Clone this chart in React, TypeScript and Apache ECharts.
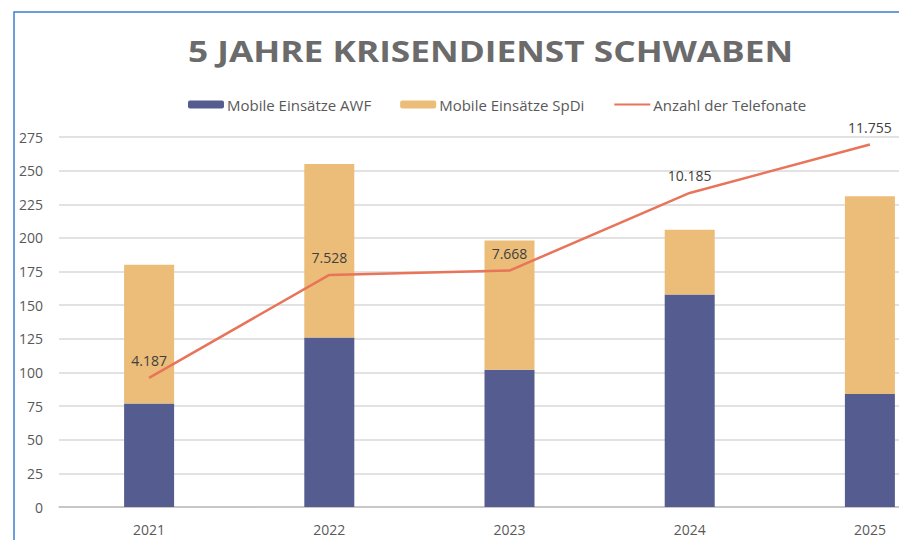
import React, { useEffect, useRef } from "react";
import * as echarts from "echarts";

const years = ["2021", "2022", "2023", "2024", "2025"];
const awf = [77, 126, 102, 158, 84];
const spdi = [103, 129, 96, 48, 147];
const calls = [4187, 7528, 7668, 10185, 11755];
const leftTicks = { min: 0, max: 275, interval: 25 };
const titleText = "5 JAHRE KRISENDIENST SCHWABEN";

function fmt(n: number): string {
  return String(n).replace(/\B(?=(\d{3})+(?!\d))/g, ".");
}

export default function App() {
  const ref = useRef<HTMLDivElement>(null);
  useEffect(() => {
    if (!ref.current) return;
    const chart = echarts.init(ref.current, null, { renderer: "svg" });
    chart.setOption({
      animation: false,
      backgroundColor: "#ffffff",
      textStyle: { fontFamily: "Open Sans" },
      legend: {
        left: 188,
        top: 97,
        padding: 0,
        itemWidth: 36,
        itemHeight: 8,
        itemGap: 29,
        textStyle: { color: "#595959", fontSize: 15, padding: [0, 0, 0, -2] },
        data: ["Mobile Einsätze AWF", "Mobile Einsätze SpDi", "Anzahl der Telefonate"],
      },
      grid: { left: 59, right: 0, top: 137, bottom: 33, containLabel: false },
      xAxis: {
        type: "category",
        data: years,
        axisLine: { lineStyle: { color: "#bfbfbf", width: 1.5 } },
        axisTick: { show: false },
        axisLabel: { color: "#595959", fontSize: 14, margin: 15 },
      },
      yAxis: [
        {
          type: "value",
          min: leftTicks.min,
          max: leftTicks.max,
          interval: leftTicks.interval,
          axisLine: { show: false },
          axisTick: { show: false },
          axisLabel: { color: "#595959", fontSize: 14, margin: 16 },
          splitLine: { lineStyle: { color: "#d9d9d9", width: 1.5 } },
        },
        {
          type: "value",
          min: 0,
          max: 12000,
          show: false,
          splitLine: { show: false },
        },
      ],
      series: [
        {
          name: "Mobile Einsätze AWF",
          type: "bar",
          stack: "s",
          data: awf,
          barWidth: 50,
          itemStyle: { color: "#555d90" },
        },
        {
          name: "Mobile Einsätze SpDi",
          type: "bar",
          stack: "s",
          data: spdi,
          barWidth: 50,
          itemStyle: { color: "#ebbd78" },
        },
        {
          name: "Anzahl der Telefonate",
          type: "line",
          yAxisIndex: 1,
          data: calls,
          symbol: "circle",
          symbolSize: 1,
          showSymbol: true,
          lineStyle: { color: "#e8745a", width: 2.5 },
          itemStyle: { color: "#e8745a", opacity: 0 },
          label: {
            show: true,
            position: "top",
            distance: 10,
            color: "#404040",
            fontSize: 14,
            opacity: 1,
            formatter: (p: any) => fmt(p.value),
          },
          z: 5,
        },
      ],
      graphic: [
        {
          type: "text",
          x: 188,
          y: 51,
          scaleX: 1.26,
          style: {
            text: titleText,
            fontFamily: "Open Sans",
            fontWeight: "bold",
            fontSize: 28,
            fill: "#6b6b6b",
            textAlign: "left",
            textVerticalAlign: "middle",
          },
          silent: true,
        },
        {
          type: "rect",
          shape: { x: 14, y: 12, width: 1000, height: 1000 },
          style: { fill: "none", stroke: "#3d7fd3", lineWidth: 1.5 },
          silent: true,
          z: 100,
        },
      ],
    });
    return () => chart.dispose();
  }, []);
  return (
    <div
      style={{
        position: "absolute",
        left: 0,
        top: 0,
        width: 899,
        height: 540,
        overflow: "hidden",
      }}
    >
      <div ref={ref} style={{ width: 960, height: 540 }} />
    </div>
  );
}
